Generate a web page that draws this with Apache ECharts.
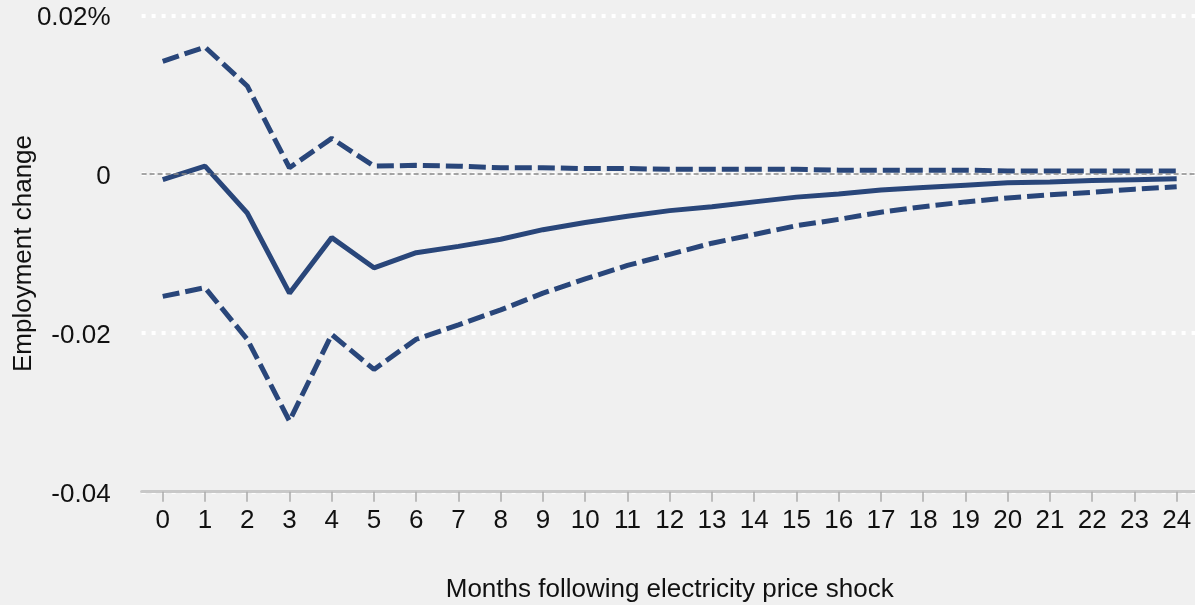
<!DOCTYPE html>
<html>
<head>
<meta charset="utf-8">
<title>Employment response to an electricity price shock</title>
<script src="https://cdn.jsdelivr.net/npm/echarts@6/dist/echarts.min.js"></script>
<style>
  html, body { margin: 0; padding: 0; background: #f0f0f0; }
  #chart { width: 1195px; height: 605px; }
</style>
</head>
<body>
<div id="chart"></div>
<script>
// Months after the shock (x categories)
const months = ['0','1','2','3','4','5','6','7','8','9','10','11','12','13','14','15','16','17','18','19','20','21','22','23','24'];

// Point estimate of the employment response (%)
const estimate = [-0.0007, 0.0010, -0.0049, -0.0150, -0.0080, -0.0118, -0.0099, -0.0091, -0.0082, -0.0070,
                  -0.0061, -0.0053, -0.0046, -0.0041, -0.0035, -0.0029, -0.0025, -0.0020, -0.0017, -0.0014,
                  -0.0011, -0.0010, -0.0008, -0.0007, -0.0006];

// Upper confidence band
const upper = [0.0142, 0.0160, 0.0111, 0.0008, 0.0045, 0.0010, 0.0011, 0.0010, 0.0008, 0.0008,
               0.0007, 0.0007, 0.0006, 0.0006, 0.0006, 0.0006, 0.0005, 0.0005, 0.0005, 0.0005,
               0.0004, 0.0004, 0.0004, 0.0004, 0.0004];

// Lower confidence band
const lower = [-0.0154, -0.0143, -0.0208, -0.0311, -0.0202, -0.0246, -0.0208, -0.0190, -0.0171, -0.0150,
               -0.0132, -0.0115, -0.0101, -0.0087, -0.0076, -0.0065, -0.0057, -0.0048, -0.0041, -0.0035,
               -0.0030, -0.0026, -0.0023, -0.0019, -0.0016];

// Y tick labels from bottom (-0.04) to top (0.02)
const yTickLabels = ['-0.04', '-0.02', '0', '0.02%'];

const FONT = '"Liberation Sans", Arial, Helvetica, sans-serif';
const NAVY = '#29467a';

const chart = echarts.init(document.getElementById('chart'), null, { renderer: 'canvas' });

const lineBase = {
  type: 'line',
  symbol: 'none',
  smooth: false,
  silent: true,
  animation: false
};

chart.setOption({
  backgroundColor: '#f0f0f0',
  animation: false,
  grid: {
    left: 141.6, right: -2.8, top: 15.3, bottom: 113.3,
    containLabel: false,
    outerBoundsMode: 'none'
  },
  xAxis: {
    type: 'category',
    data: months,
    boundaryGap: true,
    name: 'Months following electricity price shock',
    nameLocation: 'middle',
    nameGap: 85,
    nameMoveOverlap: false,
    nameTextStyle: { fontFamily: FONT, fontSize: 26, color: '#111' },
    axisLine: { show: true, onZero: false, lineStyle: { color: '#c8c8c8', width: 3 } },
    axisTick: { show: true, alignWithLabel: true, length: 10, lineStyle: { color: '#aaaaaa', width: 1.5 } },
    axisLabel: { fontFamily: FONT, fontSize: 26, color: '#111', margin: 16, interval: 0 },
    splitLine: { show: false }
  },
  yAxis: {
    type: 'value',
    min: -0.04,
    max: 0.02,
    interval: 0.02,
    name: 'Employment change',
    nameLocation: 'middle',
    nameGap: 105,
    nameMoveOverlap: false,
    nameTextStyle: { fontFamily: FONT, fontSize: 26, color: '#111' },
    axisLine: { show: false },
    axisTick: { show: false },
    axisLabel: {
      fontFamily: FONT, fontSize: 26, color: '#111', margin: 31,
      verticalAlign: 'top', lineHeight: 6,
      formatter: function (v) { return yTickLabels[Math.round((v + 0.04) / 0.02)]; }
    },
    splitLine: { show: true, lineStyle: { color: '#ffffff', width: 4, type: [4, 6] } }
  },
  series: [
    Object.assign({}, lineBase, {
      name: 'Upper bound',
      data: upper,
      lineStyle: { color: NAVY, width: 5, type: [17, 6] },
      markLine: {
        silent: true,
        symbol: 'none',
        label: { show: false },
        lineStyle: { color: '#888888', width: 1.5, type: [5, 3] },
        data: [{ yAxis: 0 }]
      }
    }),
    Object.assign({}, lineBase, {
      name: 'Estimate',
      data: estimate,
      lineStyle: { color: NAVY, width: 5, type: 'solid' }
    }),
    Object.assign({}, lineBase, {
      name: 'Lower bound',
      data: lower,
      lineStyle: { color: NAVY, width: 5, type: [17, 6] }
    })
  ]
});
</script>
</body>
</html>
